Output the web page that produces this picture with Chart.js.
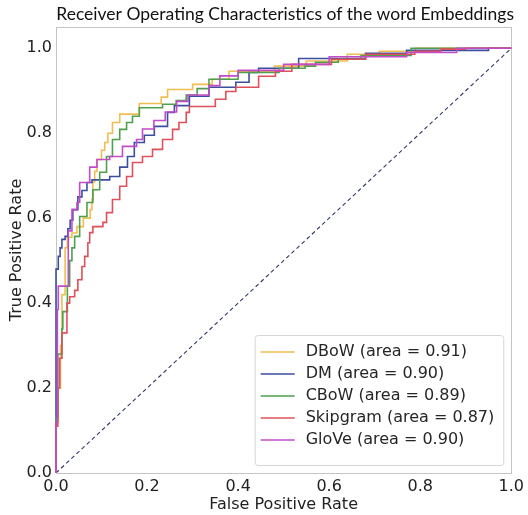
<!DOCTYPE html>
<html>
<head>
<meta charset="utf-8">
<script src="https://cdn.jsdelivr.net/npm/chart.js@4/dist/chart.umd.min.js"></script>
<style>
  html, body { margin: 0; padding: 0; background: #fff; }
  #wrap { width: 528px; height: 515px; }
</style>
</head>
<body>
<div id="wrap"><canvas id="c" width="528" height="515"></canvas></div>
<script>
const chartTitle = 'Receiver Operating Characteristics of the word Embeddings';
const xTitle = 'False Positive Rate';
const yTitle = 'True Positive Rate';
const tickValues = [0, 0.2, 0.4, 0.6, 0.8, 1.0];

const seriesNames = ['DBoW', 'DM', 'CBoW', 'Skipgram', 'GloVe'];
const seriesAreas = ['0.91', '0.90', '0.89', '0.87', '0.90'];
const seriesColors = ['#f0be50', '#3c4ea0', '#4e9f4e', '#e0505a', '#c24cc8'];

const fprDBoW = [0, 0, 0.005, 0.01, 0.013, 0.02, 0.025, 0.035, 0.046, 0.06, 0.075, 0.079, 0.081, 0.085, 0.09, 0.1, 0.107, 0.114, 0.124, 0.14, 0.183, 0.231, 0.245, 0.3, 0.343, 0.38, 0.48, 0.55, 0.64, 0.71, 0.79, 1.0];
const tprDBoW = [0, 0.12, 0.2, 0.3, 0.42, 0.53, 0.555, 0.565, 0.58, 0.6, 0.62, 0.645, 0.685, 0.71, 0.738, 0.76, 0.778, 0.8, 0.825, 0.845, 0.87, 0.885, 0.903, 0.915, 0.927, 0.946, 0.958, 0.97, 0.986, 0.993, 1.0, 1.0];

const fprDM = [0, 0, 0.005, 0.009, 0.013, 0.02, 0.026, 0.031, 0.037, 0.048, 0.057, 0.068, 0.079, 0.118, 0.14, 0.157, 0.172, 0.194, 0.216, 0.245, 0.26, 0.293, 0.336, 0.395, 0.424, 0.445, 0.533, 0.68, 0.77, 0.95, 1.0];
const tprDM = [0, 0.48, 0.51, 0.53, 0.55, 0.557, 0.575, 0.595, 0.62, 0.65, 0.665, 0.684, 0.69, 0.698, 0.72, 0.745, 0.778, 0.795, 0.816, 0.849, 0.865, 0.887, 0.908, 0.92, 0.943, 0.953, 0.976, 0.988, 0.995, 1.0, 1.0];

const fprCBoW = [0, 0, 0.004, 0.013, 0.015, 0.025, 0.03, 0.035, 0.041, 0.052, 0.068, 0.081, 0.096, 0.111, 0.124, 0.14, 0.155, 0.168, 0.183, 0.234, 0.264, 0.286, 0.31, 0.336, 0.4, 0.49, 0.547, 0.57, 0.62, 0.67, 0.78, 1.0];
const tprCBoW = [0, 0.13, 0.28, 0.34, 0.38, 0.44, 0.5, 0.53, 0.557, 0.604, 0.637, 0.667, 0.708, 0.745, 0.785, 0.809, 0.825, 0.84, 0.86, 0.868, 0.877, 0.89, 0.905, 0.927, 0.943, 0.953, 0.958, 0.967, 0.974, 0.983, 1.0, 1.0];

const fprSkip = [0, 0, 0.004, 0.008, 0.013, 0.024, 0.03, 0.041, 0.048, 0.057, 0.063, 0.07, 0.074, 0.081, 0.103, 0.111, 0.124, 0.14, 0.155, 0.168, 0.19, 0.212, 0.234, 0.256, 0.27, 0.286, 0.293, 0.35, 0.373, 0.395, 0.445, 0.482, 0.518, 0.605, 0.68, 0.788, 0.845, 0.9, 1.0];
const tprSkip = [0, 0.11, 0.2, 0.27, 0.33, 0.4, 0.415, 0.43, 0.455, 0.486, 0.51, 0.542, 0.566, 0.58, 0.59, 0.613, 0.644, 0.675, 0.698, 0.731, 0.745, 0.762, 0.785, 0.809, 0.825, 0.849, 0.863, 0.88, 0.898, 0.908, 0.934, 0.946, 0.962, 0.974, 0.986, 0.993, 0.998, 1.0, 1.0];

const fprGloVe = [0, 0, 0.003, 0.005, 0.027, 0.035, 0.046, 0.052, 0.074, 0.09, 0.118, 0.146, 0.177, 0.19, 0.215, 0.24, 0.265, 0.29, 0.336, 0.36, 0.4, 0.5, 0.6, 0.77, 0.88, 1.0];
const tprGloVe = [0, 0.12, 0.385, 0.44, 0.57, 0.62, 0.637, 0.684, 0.72, 0.738, 0.745, 0.769, 0.785, 0.81, 0.83, 0.85, 0.875, 0.89, 0.912, 0.935, 0.948, 0.962, 0.98, 0.99, 1.0, 1.0];

const chanceX = [0, 1];
const chanceY = [0, 1];

const fprs = [fprDBoW, fprDM, fprCBoW, fprSkip, fprGloVe];
const tprs = [tprDBoW, tprDM, tprCBoW, tprSkip, tprGloVe];
const toPts = (xs, ys) => xs.map((x, i) => ({ x: x, y: ys[i] }));

const datasets = seriesNames.map((n, i) => ({
  label: n + ' (area = ' + seriesAreas[i] + ')',
  data: toPts(fprs[i], tprs[i]),
  borderColor: seriesColors[i],
  backgroundColor: seriesColors[i],
  borderWidth: 1.6,
  pointRadius: 0,
  stepped: 'before',
  tension: 0,
  fill: false,
  clip: 4,
  order: seriesNames.length - i
}));
datasets.push({
  label: 'chance',
  hideInLegend: true,
  data: toPts(chanceX, chanceY),
  borderColor: '#2e3766',
  borderWidth: 1.1,
  borderDash: [4, 3],
  pointRadius: 0,
  fill: false,
  order: 10
});

// fit title width
const mc = document.createElement('canvas').getContext('2d');
mc.font = '100px Lato';
const titleSize = Math.min(18, 100 * 458 / mc.measureText(chartTitle).width);

const framePlugin = {
  id: 'frame',
  beforeDatasetsDraw(chart) {
    const a = chart.chartArea, ctx = chart.ctx;
    ctx.save();
    ctx.strokeStyle = '#c4c4c4';
    ctx.lineWidth = 1;
    ctx.strokeRect(Math.round(a.left) + 0.5, Math.round(a.top) + 0.5, Math.round(a.right - a.left), Math.round(a.bottom - a.top));
    ctx.restore();
  }
};

const legendPlugin = {
  id: 'insideLegend',
  afterDatasetsDraw(chart) {
    const ctx = chart.ctx, a = chart.chartArea;
    const items = chart.data.datasets.filter(d => !d.hideInLegend);
    ctx.save();
    ctx.font = '16px "DejaVu Sans"';
    const textW = Math.max.apply(null, items.map(d => ctx.measureText(d.label).width));
    const padL = 6, lineLen = 34, gap = 11, padR = 9, rowH = 22, padT = 6, padB = 14;
    const w = padL + lineLen + gap + textW + padR;
    const h = padT + rowH * items.length + padB;
    const x = a.right - 8 - w, y = a.bottom - 8 - h;
    ctx.beginPath();
    if (ctx.roundRect) ctx.roundRect(x + 0.5, y + 0.5, w, h, 3); else ctx.rect(x + 0.5, y + 0.5, w, h);
    ctx.fillStyle = 'rgba(255,255,255,0.85)';
    ctx.fill();
    ctx.strokeStyle = '#d6d6d6';
    ctx.lineWidth = 1;
    ctx.stroke();
    items.forEach((d, i) => {
      const cy = y + padT + rowH * (i + 0.5);
      ctx.beginPath();
      ctx.strokeStyle = d.borderColor;
      ctx.lineWidth = 1.6;
      ctx.moveTo(x + padL, cy);
      ctx.lineTo(x + padL + lineLen, cy);
      ctx.stroke();
      ctx.fillStyle = '#262626';
      ctx.textBaseline = 'middle';
      ctx.textAlign = 'left';
      ctx.fillText(d.label, x + padL + lineLen + gap, cy);
    });
    ctx.restore();
  }
};

const tickFont = { family: 'DejaVu Sans', size: 16 };

new Chart(document.getElementById('c'), {
  type: 'line',
  data: { datasets: datasets },
  plugins: [framePlugin, legendPlugin],
  options: {
    responsive: false,
    animation: false,
    events: [],
    layout: { padding: { left: 0, right: 14, top: 0, bottom: 0 } },
    plugins: {
      legend: { display: false },
      tooltip: { enabled: false },
      title: {
        display: true,
        text: chartTitle,
        align: 'end',
        color: '#111',
        font: { family: 'Lato', size: titleSize, weight: 'normal', lineHeight: 1.2 },
        padding: { top: 4, bottom: Math.max(0, 27 - 4 - titleSize * 1.2) }
      }
    },
    scales: {
      x: {
        type: 'linear',
        min: 0, max: 1,
        border: { display: false },
        grid: { display: false, drawTicks: false },
        ticks: { font: tickFont, color: '#222', padding: 4, maxRotation: 0, callback: v => Number(v).toFixed(1) },
        afterBuildTicks: s => { s.ticks = tickValues.map(v => ({ value: v })); },
        afterFit: s => { s.height = 42; },
        title: { display: true, text: xTitle, color: '#222', font: { family: 'DejaVu Sans', size: 16 }, padding: { top: 0, bottom: 1 } }
      },
      y: {
        type: 'linear',
        min: 0, max: 1.05,
        border: { display: false },
        grid: { display: false, drawTicks: false },
        ticks: { font: tickFont, color: '#222', padding: 4, callback: v => Number(v).toFixed(1) },
        afterBuildTicks: s => { s.ticks = tickValues.map(v => ({ value: v })); },
        afterFit: s => { s.width = 56; },
        title: { display: true, text: yTitle, color: '#222', font: { family: 'DejaVu Sans', size: 16 }, padding: { top: 7, bottom: 0 } }
      }
    }
  }
});
</script>
</body>
</html>
